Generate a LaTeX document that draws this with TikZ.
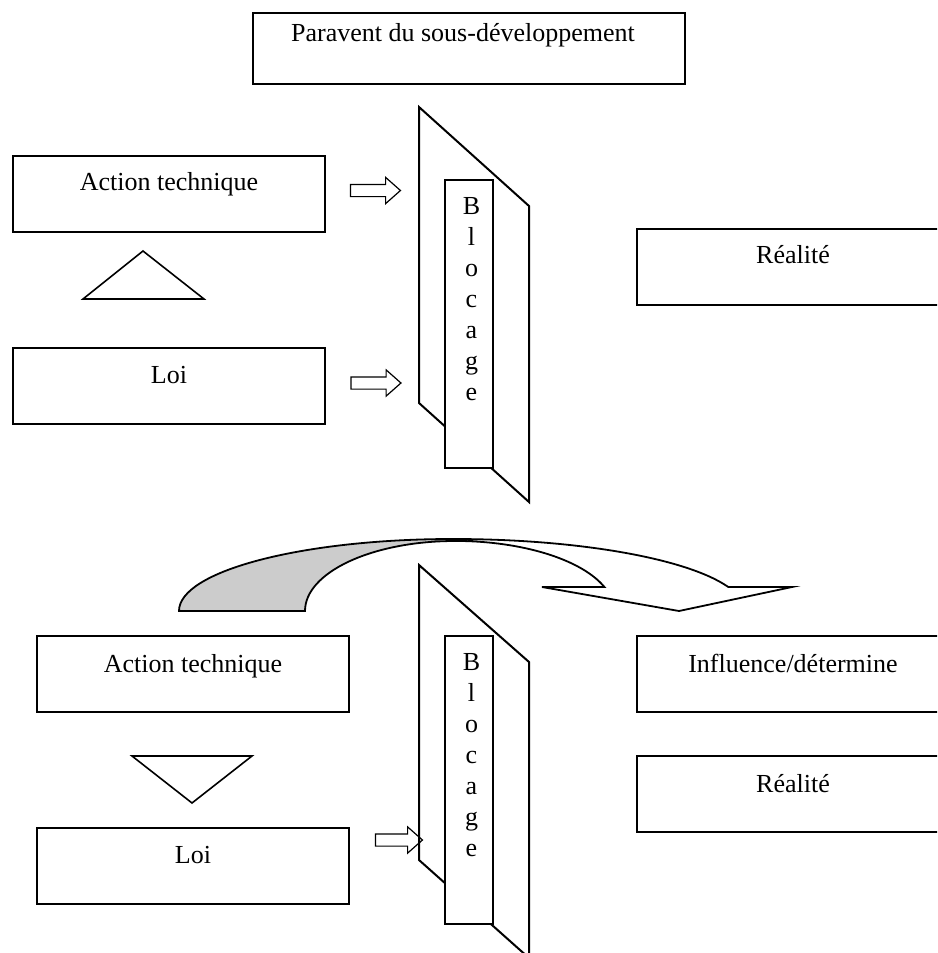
\documentclass[tikz,border=0pt]{standalone}
\usepackage{fontspec}
\setmainfont{Liberation Serif}
\usetikzlibrary{shapes.arrows}
\newcommand\blocagetext{\vtop{\baselineskip=15.5pt\lineskiplimit=-20pt\lineskip=0pt
 \hbox to 0pt{\hss B\hss}\hbox to 0pt{\hss l\hss}\hbox to 0pt{\hss o\hss}\hbox to 0pt{\hss c\hss}\hbox to 0pt{\hss a\hss}\hbox to 0pt{\hss g\hss}\hbox to 0pt{\hss e\hss}}}
\begin{document}
\begin{tikzpicture}[x=0.5pt,y=-0.5pt,
  txt/.style={font=\fontsize{13}{15.6}\selectfont, inner sep=0pt, anchor=base},
  box/.style={draw, line width=1pt, inner sep=0pt, anchor=north west, minimum width=156pt, minimum height=37.75pt},
  blk/.style={single arrow, draw, line width=0.6pt, inner sep=2.75pt, single arrow head extend=3.5pt, single arrow tip angle=83, minimum height=25pt},
  screen/.style={draw, line width=1pt, line join=miter},
  bloc/.style={draw, fill=white, line width=1pt, inner sep=0pt, anchor=north west, minimum width=24pt, minimum height=144pt},
  tri/.style={draw, line width=0.8pt, line join=miter},
  curve/.style={draw, line width=0.9pt}]
\useasboundingbox (0,0) rectangle (937,953);
\clip (0,0) rectangle (937,953);

% title
\node[box, minimum width=216pt, minimum height=35.5pt] (par) at (252,12) {};
\node[txt] (part) at ([xshift=-3pt,yshift=-14.5pt]par.north) {Paravent du sous-développement};

% upper part
\node[box] (act1) at (12,155) {};
\node[txt] (act1t) at ([yshift=-17.5pt]act1.north) {Action technique};
\node[box] (loi1) at (12,347) {};
\node[txt] (loi1t) at ([yshift=-18pt]loi1.north) {Loi};
\node[box] (rea1) at (636,228) {};
\node[txt] (rea1t) at ([yshift=-17.5pt]rea1.north) {Réalité};
\draw[tri] (83,299) -- (143,251) -- (204,299) -- cycle;

\draw[screen] (419,107) -- (529,206) -- (529,502) -- (419,403) -- cycle;
\node[bloc] (b1) at (444,179) {};
\node[txt] (b1t) at (471.5,214.5) {\blocagetext};
\node[blk] (a1) at (372,190.5) {};
\node[blk] (a2) at (372.5,383) {};

% curved arrow
\filldraw[curve, fill=black!20] (179,611) arc[x radius=274, y radius=72, start angle=180, end angle=270]
  -- (455,541) arc[x radius=150, y radius=70, start angle=270, end angle=180] -- cycle;
\filldraw[curve, fill=white] (453,539) arc[x radius=292, y radius=72, start angle=270, end angle=340.5]
  -- (792,587) -- (679,611) -- (542,587) -- (604.4,587)
  arc[x radius=159, y radius=70, start angle=340, end angle=270] -- cycle;

% lower part
\node[box] (act2) at (36,635) {};
\node[txt] (act2t) at ([yshift=-18.5pt]act2.north) {Action technique};
\node[box] (loi2) at (36,827) {};
\node[txt] (loi2t) at ([yshift=-18pt]loi2.north) {Loi};
\node[box] (inf) at (636,635) {};
\node[txt] (inft) at ([yshift=-18.5pt]inf.north) {Influence/détermine};
\node[box] (rea2) at (636,755) {};
\node[txt] (rea2t) at ([yshift=-18.5pt]rea2.north) {Réalité};
\draw[tri] (132,756) -- (252,756) -- (192,803) -- cycle;

\draw[screen] (419,565) -- (529,662) -- (529,958) -- (419,860) -- cycle;
\node[bloc] (b2) at (444,635) {};
\node[txt] (b2t) at (471.5,670.5) {\blocagetext};
\node[blk, minimum height=23.5pt] (a3) at (395.5,840) {};
\end{tikzpicture}
\end{document}
